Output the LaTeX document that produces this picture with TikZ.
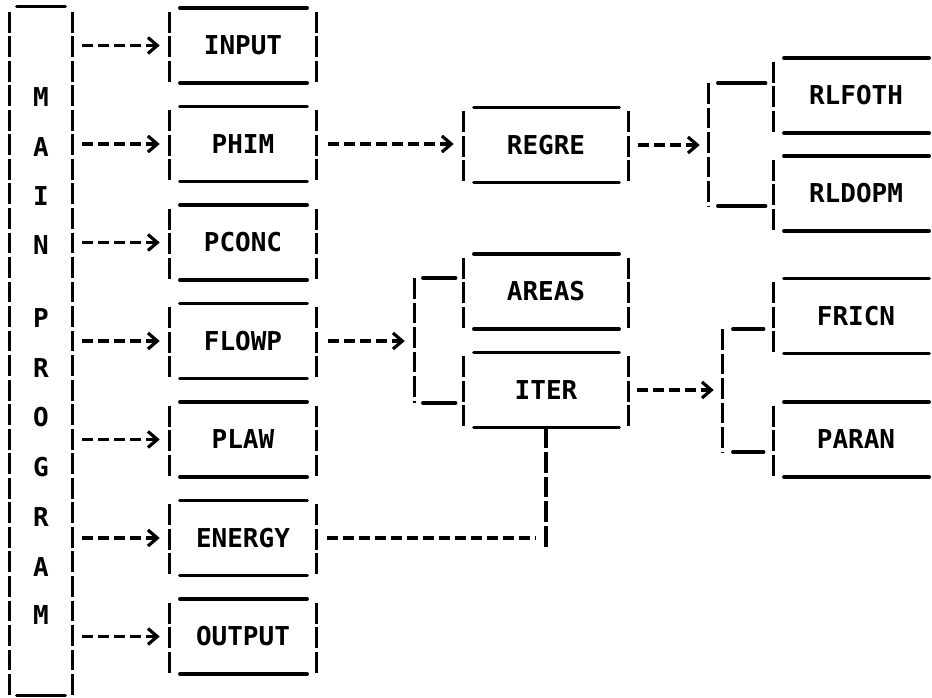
\documentclass[tikz,border=0pt]{standalone}
\usepackage{fontspec}
\setmonofont{DejaVu Sans Mono}
\usetikzlibrary{arrows.meta,positioning,calc}

\tikzset{
  bar/.style={line width=2.5pt,line cap=round},
  side/.style={line width=2.5pt,dash pattern=on 15.6pt off 2.8pt},
  dashline/.style={line width=2.4pt,dash pattern=on 8pt off 4pt},
  arr/.style={dashline,-{Straight Barb[length=7pt,width=12pt]}},
  typed/.style={font=\ttfamily\bfseries\fontsize{19.5}{22}\selectfont,inner sep=0pt,text height=14.2pt,text depth=0pt},
  routine/.style={typed,minimum width=109.5pt,minimum height=56pt},
  wide/.style={routine,minimum width=123pt},
  mainbox/.style={inner sep=0pt,minimum width=46.5pt,minimum height=516pt}
}
% bars and left side of a typed box
\newcommand\ruled[1]{%
  \draw[bar] ($(#1.north west)+(10,0)$) -- ($(#1.north east)+(-9,0)$);
  \draw[bar] ($(#1.south west)+(10,0)$) -- ($(#1.south east)+(-9,0)$);
  \draw[side] ($(#1.north west)+(0,4)$) -- ($(#1.south west)+(0,-1)$);
}
\newcommand\rside[1]{\draw[side] ($(#1.north east)+(0,4)$) -- ($(#1.south east)+(0,-1)$);}

\begin{document}
\begin{tikzpicture}[x=0.75pt,y=-0.75pt]
\path[use as bounding box] (0,0) rectangle (932,697);

% main program column
\node[mainbox] (main) at (41,351) {};
\draw[bar] ($(main.north west)+(7,0)$) -- ($(main.north east)+(-7,0)$);
\draw[bar] ($(main.south west)+(7,0)$) -- ($(main.south east)+(-7,0)$);
\draw[side] ($(main.north west)+(0,5)$) -- ($(main.south west)+(0,5)$);
\draw[side] ($(main.north east)+(0,5)$) -- ($(main.south east)+(0,5)$);
\foreach \ch/\y [count=\i] in {M/97,A/147,I/196,N/245,P/318,R/368,O/417,G/467,R/517,A/567,M/615}{
  \node[typed] (letter\i) at (41,\y) {\ch};
}

% routines called from main
\foreach \nm/\y/\txt in {input/45.5/INPUT,phim/144/PHIM,pconc/242.5/PCONC,flowp/341/FLOWP,plaw/439.5/PLAW,energy/538/ENERGY,output/636.5/OUTPUT}{
  \node[routine] (\nm) at (243,\y) {\txt};
  \ruled{\nm}
  \rside{\nm}
  \draw[arr] ($(main.east |- \nm.west)+(10,0)$) -- ($(\nm.west)+(-10,0)$);
}

% second level
\node[wide] (regre) at (546,145) {REGRE};
\node[wide] (areas) at (546,291.5) {AREAS};
\node[wide] (iter) at (546,390) {ITER};
\foreach \nm in {regre,areas,iter}{\ruled{\nm}\rside{\nm}}

% third level
\node[wide] (rlfoth) at (856,95.5) {RLFOTH};
\node[wide] (rldopm) at (856,193.5) {RLDOPM};
\node[wide] (fricn) at (856,316) {FRICN};
\node[wide] (paran) at (856,439.5) {PARAN};
\foreach \nm in {rlfoth,rldopm,fricn,paran}{\ruled{\nm}}

% forks
\coordinate (fork1) at ($(rlfoth.west)!0.5!(rldopm.west)+(-65,0)$);
\draw[side] ($(rlfoth.west)+(-65,-12.5)$) -- ($(rldopm.west)+(-65,12.5)$);
\draw[bar] ($(rlfoth.west)+(-56,-12.5)$) -- ($(rlfoth.west)+(-8,-12.5)$);
\draw[bar] ($(rldopm.west)+(-56,12.5)$) -- ($(rldopm.west)+(-8,12.5)$);

\coordinate (fork2) at ($(areas.west)!0.5!(iter.west)+(-49,0)$);
\draw[side] ($(areas.west)+(-49,-13.5)$) -- ($(iter.west)+(-49,13)$);
\draw[bar] ($(areas.west)+(-41,-13.5)$) -- ($(areas.west)+(-8,-13.5)$);
\draw[bar] ($(iter.west)+(-41,13)$) -- ($(iter.west)+(-8,13)$);

\coordinate (fork3) at ($(fricn.west)!0.5!(paran.west)+(-51,0)$);
\draw[side] ($(fricn.west)+(-51,13)$) -- ($(paran.west)+(-51,12.5)$);
\draw[bar] ($(fricn.west)+(-41,13)$) -- ($(fricn.west)+(-10,13)$);
\draw[bar] ($(paran.west)+(-41,12.5)$) -- ($(paran.west)+(-10,12.5)$);

% calls
\draw[arr] ($(phim.east)+(12,0)$) -- ($(phim.east -| regre.west)+(-10,0)$);
\draw[arr] ($(regre.east)+(10,0)$) -- ($(regre.east -| fork1)+(-9,0)$);
\draw[arr] ($(flowp.east)+(12,0)$) -- ($(flowp.east -| fork2)+(-10,0)$);
\draw[arr] ($(iter.east)+(9,0)$) -- ($(iter.east -| fork3)+(-9,0)$);

% energy joins iter
\coordinate (join) at (iter.south |- energy.east);
\draw[dashline] ($(energy.east)+(11,0)$) -- ($(join)+(-10,0)$);
\draw[side] (iter.south) -- ($(join)+(0,12)$);
\end{tikzpicture}
\end{document}
